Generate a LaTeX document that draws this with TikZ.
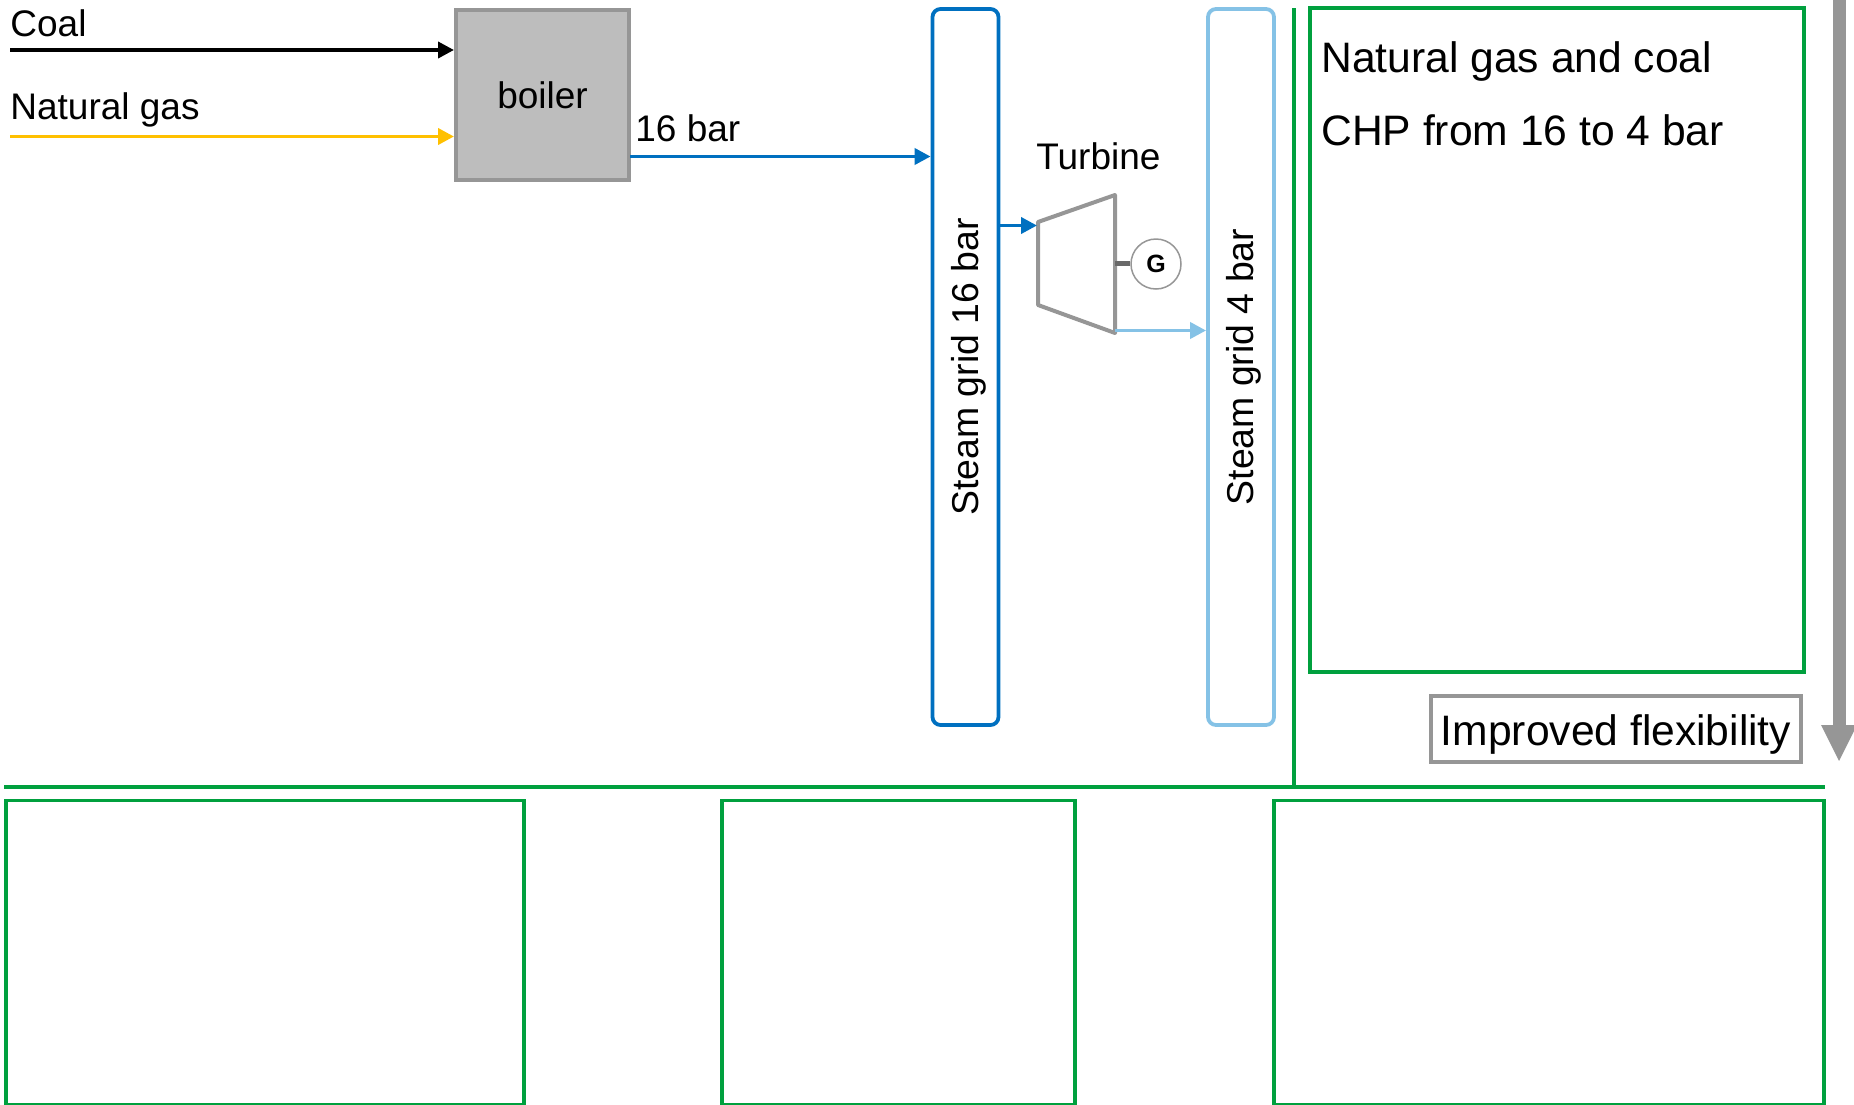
\documentclass[tikz,border=0pt]{standalone}
\usepackage{fontspec}
\setmainfont{Liberation Sans}
\usetikzlibrary{arrows.meta}
\definecolor{plantgreen}{HTML}{00A03E}
\definecolor{steamblue}{HTML}{0070C0}
\definecolor{steamlight}{HTML}{85C2E6}
\definecolor{gasamber}{HTML}{FFC000}
\definecolor{plantgrey}{HTML}{969696}
\definecolor{boilerfill}{HTML}{BDBDBD}
\begin{document}
\begin{tikzpicture}[x=0.5pt,y=-0.5pt]
\tikzset{
  label/.style={anchor=base west,inner sep=0pt,font=\fontsize{18.5}{22}\selectfont},
  biglabel/.style={anchor=base west,inner sep=0pt,font=\fontsize{21.3}{25}\selectfont},
  greenbox/.style={draw=plantgreen,line width=1.6pt,inner sep=0pt},
  gridbox/.style={rectangle,rounded corners=4pt,line width=1.9pt,rotate=90,inner sep=0pt,
    minimum width=358pt,minimum height=33pt,text height=16.5pt,text depth=3.9pt,
    font=\fontsize{18.7}{22}\selectfont},
  flow/.style={line width=1.9pt,-{Triangle[length=8pt,width=8pt]}},
  greenline/.style={draw=plantgreen,line width=1.75pt}
}
\useasboundingbox (0,0) rectangle (1854,1104);
% inputs and boiler
\node[draw=plantgrey,fill=boilerfill,line width=2pt,minimum width=86.5pt,minimum height=85pt,inner sep=0pt,
  font=\fontsize{18.5}{22}\selectfont] (n_boiler) at (542.5,95) {boiler};
\node[label] (n_coal) at (10,36) {Coal};
\node[label] (n_gas) at (10,119) {Natural gas};
\node[label] (n_bar) at (635,141) {16 bar};
\coordinate (c_coal) at (10,50);
\coordinate (c_gas) at (10,136.5);
\coordinate (c_out) at (630,156.5);
\draw[flow,draw=black,fill=black] (c_coal) -- (c_coal -| n_boiler.west);
\draw[flow,draw=gasamber,fill=gasamber] (c_gas) -- (c_gas -| n_boiler.west);
% steam grids
\node[gridbox,draw=steamblue] (n_grid16) at (965.5,367) {Steam grid 16 bar};
\node[gridbox,draw=steamlight] (n_grid4) at (1241,367) {Steam grid 4 bar};
\draw[flow,draw=steamblue,fill=steamblue] (c_out) -- (c_out -| n_grid16.north);
% turbine
\coordinate (c_t1) at (1038,222);
\coordinate (c_t2) at (1115,195);
\coordinate (c_t3) at (1115,333);
\coordinate (c_t4) at (1038,305);
\coordinate (c_in) at (999,225.5);
\coordinate (c_tin) at (1037,225.5);
\coordinate (c_tout) at (1115,330.5);
\coordinate (c_shaft) at (1115,263);
\node[label] (n_turbine) at (1036,169) {Turbine};
\node[circle,draw=plantgrey,line width=0.75pt,minimum size=25pt,inner sep=0pt,font=\bfseries\fontsize{12.5}{14}\selectfont] (n_gen) at (1156,264) {G};
\draw[draw=plantgrey,line width=2pt,line join=round] (c_t1) -- (c_t2) -- (c_t3) -- (c_t4) -- cycle;
\draw[flow,draw=steamblue,fill=steamblue] (c_in) -- (c_tin);
\draw[flow,draw=steamlight,fill=steamlight] (c_tout) -- (c_tout -| n_grid4.north);
\draw[draw=plantgrey!70!black,line width=2.5pt] (c_shaft) -- (c_shaft -| n_gen.west);
% green frames
\coordinate (c_vtop) at (1293.5,8);
\coordinate (c_hleft) at (4,787);
\coordinate (c_hright) at (1825,787);
\draw[greenline] (c_hleft) -- (c_hright);
\draw[greenline,line width=2pt] (c_vtop) -- (c_vtop |- c_hleft);
\node[greenbox,minimum width=247pt,minimum height=332pt] (n_main) at (1557,340) {};
\node[biglabel] (n_title) at (1321,72) {Natural gas and coal};
\node[biglabel] (n_subtitle) at (1321,145) {CHP from 16 to 4 bar};
\node[greenbox,minimum width=259pt,minimum height=152pt] (n_low1) at (265,952.5) {};
\node[greenbox,minimum width=176.5pt,minimum height=152pt] (n_low2) at (898.5,952.5) {};
\node[greenbox,minimum width=275pt,minimum height=152pt] (n_low3) at (1549,952.5) {};
% flexibility
\node[draw=plantgrey,line width=2pt,minimum width=185pt,minimum height=33pt,inner sep=0pt,
  text height=20.8pt,text depth=4.4pt,font=\fontsize{21.3}{25}\selectfont] (n_flex) at (1616,729) {Improved flexibility};
\coordinate (c_atop) at (1839,0);
\coordinate (c_atip) at (1839,762);
\draw[draw=plantgrey,fill=plantgrey,line width=6.5pt,-{Triangle[length=18.5pt,width=16.5pt]}] (c_atop) -- (c_atip);
\end{tikzpicture}
\end{document}
